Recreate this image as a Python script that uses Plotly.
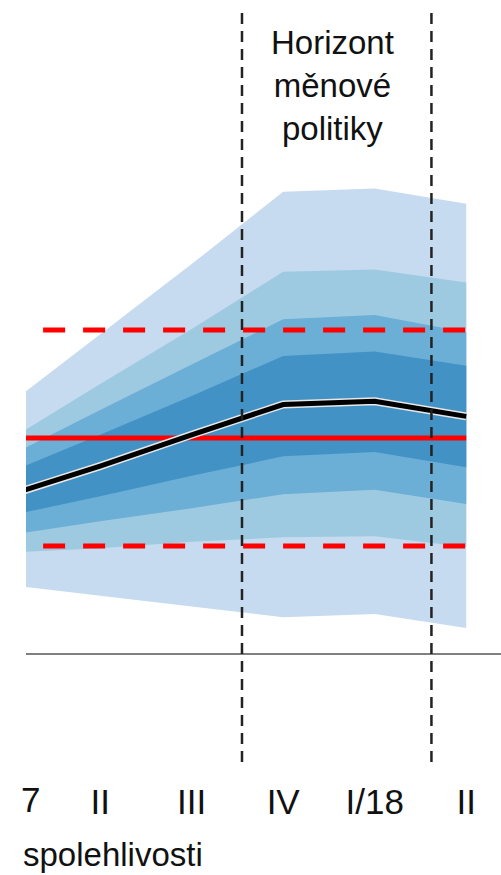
import plotly.graph_objects as go

# ---- data (values in %, quarters indexed 0 = I/17 ... 5 = II/18) ----
quarters = [0, 1, 2, 3, 4, 5]
tick_vals = [1, 2, 3, 4, 5]
tick_labels = ["II", "III", "IV", "I/18", "II"]

baseline = [1.47, 1.74, 2.03, 2.31, 2.34, 2.20]
band90_hi = [2.31, 2.96, 3.61, 4.28, 4.31, 4.17]
band90_lo = [0.64, 0.54, 0.44, 0.34, 0.37, 0.24]
band70_hi = [1.98, 2.50, 3.01, 3.54, 3.56, 3.44]
band70_lo = [0.94, 0.98, 1.04, 1.08, 1.09, 0.99]
band50_hi = [1.83, 2.26, 2.68, 3.10, 3.14, 2.98]
band50_lo = [1.10, 1.23, 1.35, 1.48, 1.52, 1.39]
band30_hi = [1.68, 2.03, 2.39, 2.76, 2.80, 2.67]
band30_lo = [1.28, 1.46, 1.65, 1.83, 1.87, 1.73]

target = 2.0
tolerance_hi = 3.0
tolerance_lo = 1.0
horizon = [2.55, 4.62]

# ---- styling ----
FONT = "Liberation Sans, Arial, sans-serif"
band_colors = ["#c6dbef", "#9ecae1", "#6baed6", "#4292c6"]
X_MIN, X_MAX = 0.19, 5.38
DASH_START = 0.377

fig = go.Figure()

bands = [(band90_hi, band90_lo), (band70_hi, band70_lo),
         (band50_hi, band50_lo), (band30_hi, band30_lo)]
for (hi, lo), col in zip(bands, band_colors):
    fig.add_trace(go.Scatter(
        x=quarters + quarters[::-1],
        y=hi + lo[::-1],
        fill="toself", fillcolor=col, mode="lines",
        line=dict(width=0, color=col), hoverinfo="skip", showlegend=False))

# tolerance band and target
for lvl in (tolerance_hi, tolerance_lo):
    fig.add_trace(go.Scatter(
        x=[DASH_START, quarters[-1]], y=[lvl, lvl], mode="lines",
        line=dict(color="#ff0000", width=5, dash="22px,18px"),
        showlegend=False, hoverinfo="skip"))
fig.add_trace(go.Scatter(
    x=[X_MIN, quarters[-1]], y=[target, target], mode="lines",
    line=dict(color="#ff0000", width=5), showlegend=False, hoverinfo="skip"))

# baseline forecast (white halo + black line)
fig.add_trace(go.Scatter(x=quarters, y=baseline, mode="lines",
                         line=dict(color="#e8e8e8", width=8),
                         showlegend=False, hoverinfo="skip"))
fig.add_trace(go.Scatter(x=quarters, y=baseline, mode="lines",
                         line=dict(color="#000000", width=5),
                         showlegend=False, hoverinfo="skip"))

# monetary policy horizon lines
for h in horizon:
    fig.add_shape(type="line", xref="x", yref="paper", x0=h, x1=h, y0=0, y1=1,
                  line=dict(color="#222222", width=2.5, dash="11px,7px"))

fig.add_annotation(text="Horizont<br>měnové<br>politiky", xref="paper", yref="paper",
                   x=0.646, y=0.979, xanchor="center", yanchor="top", showarrow=False,
                   align="center", font=dict(family=FONT, size=33, color="#111111"))

fig.add_annotation(text="7", xref="x", yref="paper", x=0.235, y=-0.021,
                   xanchor="center", yanchor="top", showarrow=False,
                   font=dict(family=FONT, size=35, color="#111111"))

fig.add_annotation(text="spolehlivosti", xref="paper", yref="paper",
                   x=-0.010, y=-0.095, xanchor="left", yanchor="top", showarrow=False,
                   font=dict(family=FONT, size=33, color="#111111"))

fig.update_layout(
    width=501, height=875,
    margin=dict(l=26, r=0, t=6, b=113, autoexpand=False),
    paper_bgcolor="white", plot_bgcolor="white",
    showlegend=False,
    xaxis=dict(range=[X_MIN, X_MAX], tickvals=tick_vals, ticktext=tick_labels,
               showgrid=False, zeroline=False, showline=False, ticks="",
               ticklabelstandoff=16, automargin=False,
               tickfont=dict(family=FONT, size=35, color="#111111")),
    yaxis=dict(range=[-1, 6], showgrid=False, showticklabels=False, ticks="",
               zeroline=True, zerolinecolor="#808080", zerolinewidth=2,
               showline=False, automargin=False),
)

fig.write_html(
    "out.html",
    config={"responsive": False, "displayModeBar": False},
    post_script="document.body.style.margin='0';document.body.style.overflow='hidden';",
)
